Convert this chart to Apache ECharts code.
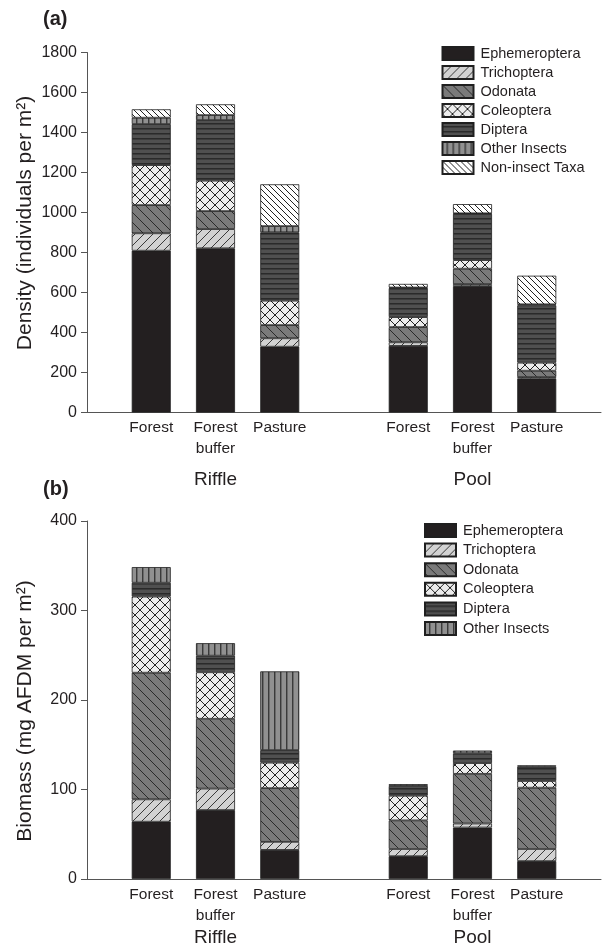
<!DOCTYPE html>
<html>
<head>
<meta charset="utf-8">
<script src="https://cdn.jsdelivr.net/npm/echarts@6/dist/echarts.min.js"></script>
<style>
  html, body { margin: 0; padding: 0; background: #fff; }
  #chart { width: 604px; height: 949px; }
</style>
</head>
<body>
<div id="chart"></div>
<script>
// Sites within each habitat and the habitat groups
const sites = ['Forest', 'Forest\nbuffer', 'Pasture'];
const habitats = ['Riffle', 'Pool'];

// Taxa, bottom of the stack first
const densityTaxa = ['Ephemeroptera', 'Trichoptera', 'Odonata', 'Coleoptera', 'Diptera', 'Other Insects', 'Non-insect Taxa'];
const biomassTaxa = ['Ephemeroptera', 'Trichoptera', 'Odonata', 'Coleoptera', 'Diptera', 'Other Insects'];

// Density (individuals per m²); order: Riffle Forest, Riffle Forest buffer, Riffle Pasture,
// Pool Forest, Pool Forest buffer, Pool Pasture
const densEphemeroptera = [809, 821, 329, 333, 632, 169];
const densTrichoptera   = [87, 96, 42, 18, 10, 8];
const densOdonata       = [141, 90, 66, 76, 77, 32];
const densColeoptera    = [200, 152, 122, 50, 43, 40];
const densDiptera       = [205, 303, 342, 145, 231, 287];
const densOtherInsects  = [32, 25, 31, 3, 3, 5];
const densNonInsect     = [42, 54, 209, 18, 46, 143];

// Biomass (mg AFDM per m²), same site order
const bioEphemeroptera = [64, 77, 32.5, 25.5, 57.5, 20];
const bioTrichoptera   = [25, 24, 9, 8, 4.5, 13.5];
const bioOdonata       = [141.5, 78, 60, 32, 55.5, 68.5];
const bioColeoptera    = [85, 52, 28.5, 27.5, 12, 7.5];
const bioDiptera       = [15.5, 18.5, 14, 11, 11, 16];
const bioOtherInsects  = [17.5, 14, 88, 2, 3, 1.5];

// Axis ticks
const densityTicks = { min: 0, max: 1800, interval: 200 };
const biomassTicks = { min: 0, max: 400, interval: 100 };

// Axis titles
const densityTitle = 'Density (individuals per m²)';
const biomassTitle = 'Biomass (mg AFDM per m²)';

const densitySeries = [densEphemeroptera, densTrichoptera, densOdonata, densColeoptera, densDiptera, densOtherInsects, densNonInsect];
const biomassSeries = [bioEphemeroptera, bioTrichoptera, bioOdonata, bioColeoptera, bioDiptera, bioOtherInsects];

// Slot layout: blank, three riffle sites, blank, three pool sites, blank
function toSlots(vals) {
  return ['-', vals[0], vals[1], vals[2], '-', vals[3], vals[4], vals[5], '-'];
}
const siteSlots = ['', ...sites, '', ...sites, ''];
const groupSlots = ['', '', habitats[0], '', '', '', habitats[1], '', ''];

// ---- fill patterns ----
function makeTile(w, h, draw) {
  const c = document.createElement('canvas');
  c.width = w; c.height = h;
  const g = c.getContext('2d');
  draw(g, w, h);
  return { image: c, repeat: 'repeat' };
}
function diag(g, n, dir, color, lw) {
  g.strokeStyle = color; g.lineWidth = lw;
  g.beginPath();
  if (dir === '/') {
    g.moveTo(-1, n + 1); g.lineTo(n + 1, -1);
    g.moveTo(-n - 1, n + 1); g.lineTo(1, -1);
    g.moveTo(n - 1, n + 1); g.lineTo(2 * n + 1, -1);
  } else {
    g.moveTo(-1, -1); g.lineTo(n + 1, n + 1);
    g.moveTo(-n - 1, -1); g.lineTo(1, n + 1);
    g.moveTo(n - 1, -1); g.lineTo(2 * n + 1, n + 1);
  }
  g.stroke();
}
const fills = {
  'Ephemeroptera': '#231f20',
  'Trichoptera': makeTile(9, 9, (g, w, h) => {
    g.fillStyle = '#d2d2d2'; g.fillRect(0, 0, w, h);
    diag(g, 9, '/', '#3a3a3a', 1);
  }),
  'Odonata': makeTile(10, 10, (g, w, h) => {
    g.fillStyle = '#7a7a7a'; g.fillRect(0, 0, w, h);
    diag(g, 10, '\\', '#2a2a2a', 1);
  }),
  'Coleoptera': makeTile(10, 10, (g, w, h) => {
    g.fillStyle = '#ededed'; g.fillRect(0, 0, w, h);
    diag(g, 10, '/', '#222', 1);
    diag(g, 10, '\\', '#222', 1);
  }),
  'Diptera': makeTile(8, 5, (g, w, h) => {
    g.fillStyle = '#505050'; g.fillRect(0, 0, w, h);
    g.fillStyle = '#2a2a2a'; g.fillRect(0, 3, w, 1);
    g.fillStyle = '#3c3c3c'; g.fillRect(0, 4, w, 1);
  }),
  'Other Insects': makeTile(6, 8, (g, w, h) => {
    g.fillStyle = '#909090'; g.fillRect(0, 0, w, h);
    g.fillStyle = '#3a3a3a'; g.fillRect(4, 0, 1, h);
    g.fillStyle = '#6a6a6a'; g.fillRect(5, 0, 1, h);
  }),
  'Non-insect Taxa': makeTile(6, 6, (g, w, h) => {
    g.fillStyle = '#ffffff'; g.fillRect(0, 0, w, h);
    diag(g, 6, '\\', '#222', 1);
  })
};

const textColor = '#231f20';
const axisColor = '#555';
const font = 'Liberation Sans, Arial, Helvetica, sans-serif';

function siteAxis(gridIndex) {
  return {
    type: 'category', gridIndex, data: siteSlots, boundaryGap: false,
    axisLine: { show: true, lineStyle: { color: axisColor, width: 1 } },
    axisTick: { show: false },
    splitLine: { show: false },
    axisLabel: { interval: 0, margin: 5, color: textColor, fontSize: 15.5, lineHeight: 21, fontFamily: font }
  };
}
function groupAxis(gridIndex, margin) {
  return {
    type: 'category', gridIndex, data: groupSlots, boundaryGap: false, position: 'bottom',
    axisLine: { show: false }, axisTick: { show: false }, splitLine: { show: false },
    axisLabel: { interval: 0, margin, color: textColor, fontSize: 19, lineHeight: 22, fontFamily: font }
  };
}
function valueAxis(gridIndex, ticks) {
  return {
    type: 'value', gridIndex, min: ticks.min, max: ticks.max, interval: ticks.interval,
    axisLine: { show: true, lineStyle: { color: axisColor, width: 1 } },
    axisTick: { show: true, length: 6, inside: false, lineStyle: { color: axisColor } },
    splitLine: { show: false },
    axisLabel: { margin: 10, color: textColor, fontSize: 16, fontFamily: font, formatter: v => String(v) }
  };
}

function buildSeries(taxa, values, xIdx, yIdx, stack) {
  return taxa.map((name, i) => ({
    type: 'bar', name, stack, xAxisIndex: xIdx, yAxisIndex: yIdx,
    barWidth: 39,
    data: toSlots(values[i]),
    itemStyle: { color: fills[name], borderColor: '#1f1f1f', borderWidth: 0.8 },
    emphasis: { disabled: true },
    animation: false
  }));
}

function legend(names, left, top, gap) {
  return {
    data: names, orient: 'vertical', left, top, padding: 0,
    itemWidth: 31, itemHeight: 13, itemGap: gap, icon: 'rect',
    selectedMode: false,
    textStyle: { color: textColor, fontSize: 14.5, fontFamily: font, padding: [0, 0, 0, 2] }
  };
}

function rotatedTitle(text, x, y) {
  return {
    type: 'text', x, y, rotation: Math.PI / 2,
    style: { text, fontSize: 21, fill: textColor, fontFamily: font, align: 'center', verticalAlign: 'middle' }
  };
}

const chart = echarts.init(document.getElementById('chart'), null, { renderer: 'canvas' });
chart.setOption({
  backgroundColor: '#fff',
  animation: false,
  grid: [
    { left: 87, top: 52.5, width: 516, height: 360 },
    { left: 87, top: 521, width: 516, height: 361 }
  ],
  xAxis: [siteAxis(0), groupAxis(0, 56.5), siteAxis(1), groupAxis(1, 48)],
  yAxis: [valueAxis(0, densityTicks), valueAxis(1, biomassTicks)],
  legend: [
    legend(densityTaxa, 441.5, 46, 4),
    legend(biomassTaxa, 424, 523, 4.6)
  ],
  graphic: [
    { type: 'text', left: 43, top: 9, style: { text: '(a)', fontSize: 20, fontWeight: 'bold', fill: textColor, fontFamily: font } },
    { type: 'text', left: 43, top: 479, style: { text: '(b)', fontSize: 20, fontWeight: 'bold', fill: textColor, fontFamily: font } },
    rotatedTitle(densityTitle, 25, 223),
    rotatedTitle(biomassTitle, 25, 711)
  ],
  series: [
    ...buildSeries(densityTaxa, densitySeries, 0, 0, 'density'),
    ...buildSeries(biomassTaxa, biomassSeries, 2, 1, 'biomass')
  ]
});
</script>
</body>
</html>
